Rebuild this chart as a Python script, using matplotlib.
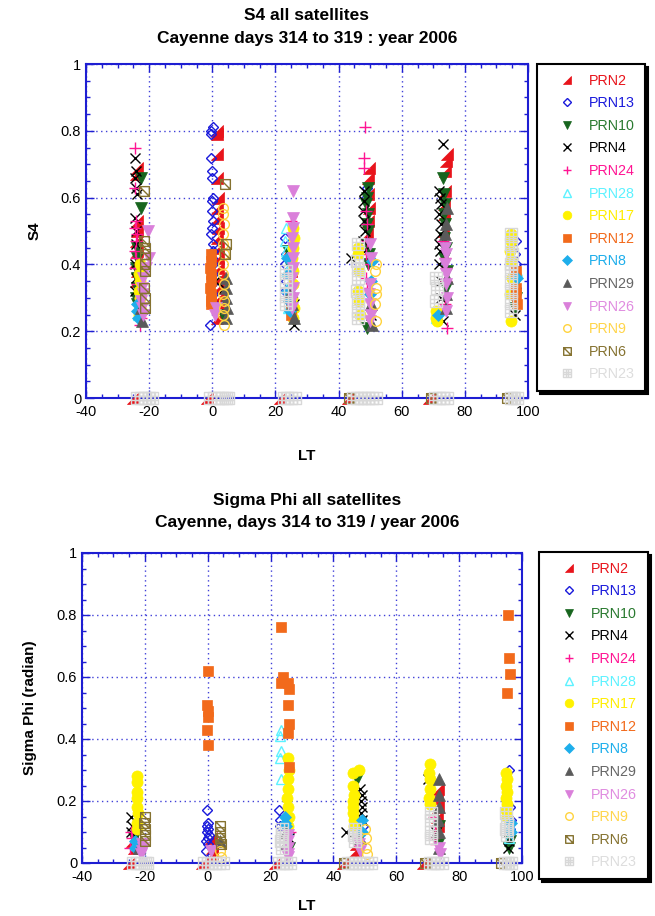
import matplotlib
matplotlib.use('Agg')
import matplotlib.pyplot as plt
from matplotlib.path import Path
from matplotlib.ticker import MultipleLocator, FuncFormatter
from matplotlib.lines import Line2D

# ---------------- data ----------------
prn_names = ['PRN2', 'PRN13', 'PRN10', 'PRN4', 'PRN24', 'PRN28', 'PRN17',
             'PRN12', 'PRN8', 'PRN29', 'PRN26', 'PRN9', 'PRN6', 'PRN23']
prn_colors = ['#E8141B', '#1A1ADB', '#17651E', '#000000', '#FF1493', '#5CF2FF', '#FFF200',
              '#F26A1B', '#1EAEEB', '#5A5A5A', '#DA7FDA', '#FFD33D', '#857230', '#D8D8D8']
text_colors = ['#E8141B', '#1A1ADB', '#2A7A30', '#000000', '#FF1493', '#5CF2FF', '#FFEE00',
               '#F26A1B', '#1EAEEB', '#666666', '#E08CE0', '#FFD54A', '#857230', '#DDDDDD']

# ---- S4 (top panel): local time (LT) and S4 value per satellite ----
s4_lt_prn2 = [-24.0, -24.2, -23.8, -24.0, -24.3, -23.9, -24.1, -24.0, -24.2,
              1.5, 1.6, 1.4, 1.5, 1.7, 1.6, 1.5, 1.8, 1.6, 1.7, 1.9, 1.8, 2.0, 1.9, 1.7, 1.8, 1.6,
              24.5, 24.8, 49.6, 49.4, 49.3, 49.5, 49.2, 49.0,
              74.3, 74.0, 73.8, 73.6, 73.5, 73.4, 73.2,
              -25.2, -1.8, 21.3, 43.0, 68.5]
s4_prn2 = [0.69, 0.67, 0.53, 0.50, 0.47, 0.44, 0.41, 0.38, 0.35,
           0.80, 0.79, 0.73, 0.66, 0.60, 0.57, 0.54, 0.51, 0.48, 0.45, 0.42, 0.39, 0.36, 0.33, 0.30, 0.27, 0.24,
           0.45, 0.38, 0.69, 0.66, 0.61, 0.57, 0.53, 0.49,
           0.73, 0.71, 0.68, 0.62, 0.58, 0.55, 0.50,
           0.0, 0.0, 0.0, 0.0, 0.0]

s4_lt_prn13 = [-0.5, -0.3, 0.2, -0.4, 0.0, -0.2, 0.3, 0.0, -0.1, 0.2, 0.0, -0.3, 0.1, 0.2, -0.2,
               0.1, 0.3, -0.1, 0.2, 0.4, -0.6,
               23.0, 23.2, 23.0, 23.4, 23.1, 48.9, 48.7,
               96.2, 96.0, 96.3, 96.1, 96.3, 96.0]
s4_prn13 = [0.80, 0.79, 0.81, 0.72, 0.68, 0.66, 0.60, 0.59, 0.56, 0.53, 0.51, 0.49, 0.46, 0.44, 0.42,
            0.40, 0.37, 0.34, 0.31, 0.28, 0.22,
            0.48, 0.43, 0.40, 0.35, 0.32, 0.63, 0.60,
            0.47, 0.43, 0.40, 0.36, 0.33, 0.30]

s4_lt_prn10 = [-22.5, -22.6, -24.0, -23.8, -24.2, -24.0, -23.7, -24.1, -23.9,
               3.5, 24.0, 24.3,
               49.2, 49.0, 48.8, 49.3, 49.0, 49.4, 49.1, 49.5, 49.2, 49.0,
               73.2, 73.5, 73.8, 73.3, 73.7, 73.4, 73.9, 73.5, 74.2, 74.0,
               96.0, 96.2, 95.9]
s4_prn10 = [0.66, 0.57, 0.45, 0.42, 0.39, 0.36, 0.33, 0.30, 0.28,
            0.25, 0.44, 0.40,
            0.63, 0.60, 0.58, 0.55, 0.52, 0.50, 0.46, 0.43, 0.40, 0.21,
            0.66, 0.61, 0.58, 0.55, 0.52, 0.48, 0.45, 0.42, 0.38, 0.33,
            0.34, 0.30, 0.27]

s4_lt_prn4 = [-24.5, -24.3, -24.6, -24.2, -24.0, -24.5, -24.3, -24.1, -24.4, -24.2, -24.5,
              0.8, 3.8, 26.0, 25.8,
              44.0, 47.9, 48.2, 47.8, 48.1, 48.3, 47.7, 48.0, 50.2,
              73.0, 71.8, 72.0, 72.3, 71.9, 72.4, 72.1, 71.7, 72.2, 71.9, 72.3, 72.6, 73.2,
              96.0, 95.8]
s4_prn4 = [0.72, 0.68, 0.66, 0.63, 0.61, 0.54, 0.50, 0.46, 0.40, 0.36, 0.32,
           0.35, 0.33, 0.22, 0.28,
           0.42, 0.62, 0.59, 0.56, 0.53, 0.50, 0.47, 0.44, 0.25,
           0.76, 0.62, 0.60, 0.58, 0.55, 0.52, 0.49, 0.46, 0.44, 0.40, 0.35, 0.30, 0.23,
           0.25, 0.31]

s4_lt_prn24 = [-24.4, -24.6, -24.2, -24.5, -24.0, -24.3, -24.6, -24.1, -24.4, -24.0, -23.0, -22.5, -22.8,
               25.0,
               48.5, 48.2, 48.0, 48.6, 48.9, 49.0, 48.7, 49.2, 48.8, 49.1,
               73.0, 73.6, 73.9, 74.1, 74.5, 73.8]
s4_prn24 = [0.75, 0.63, 0.53, 0.51, 0.49, 0.47, 0.44, 0.42, 0.39, 0.34, 0.30, 0.24, 0.22,
            0.53,
            0.81, 0.72, 0.69, 0.56, 0.52, 0.47, 0.43, 0.40, 0.36, 0.33,
            0.47, 0.42, 0.39, 0.35, 0.21, 0.28]

s4_lt_prn28 = [-23.5, 23.3, 23.0, 23.5, 23.6, 23.8, 24.0, 71.0, 96.4]
s4_prn28 = [0.25, 0.51, 0.47, 0.44, 0.38, 0.33, 0.27, 0.24, 0.38]

s4_lt_prn17 = [-23.0, -23.2, -22.9, -23.1, -22.8, -23.0, -23.2,
               25.5, 25.8, 25.6, 25.3, 25.7, 25.5, 25.2, 25.8, 25.6,
               46.0, 46.2, 46.4, 46.0, 46.5, 46.8,
               70.8, 70.9, 71.2,
               94.5, 94.7, 94.3, 94.6, 94.8, 94.4, 94.5]
s4_prn17 = [0.40, 0.37, 0.35, 0.32, 0.30, 0.27, 0.25,
            0.51, 0.48, 0.45, 0.42, 0.38, 0.34, 0.30, 0.27, 0.24,
            0.45, 0.43, 0.38, 0.32, 0.29, 0.25,
            0.26, 0.24, 0.23,
            0.49, 0.47, 0.44, 0.41, 0.36, 0.31, 0.23]

s4_lt_prn12 = [-0.5, -0.4, -0.6, -0.5, -0.4, -0.6, -0.5, -0.4, -0.5,
               24.5, 24.8, 25.0,
               96.2, 96.3, 96.1, 96.4]
s4_prn12 = [0.43, 0.41, 0.39, 0.37, 0.35, 0.33, 0.31, 0.29, 0.28,
            0.30, 0.27, 0.25,
            0.38, 0.33, 0.31, 0.28]

s4_lt_prn8 = [-23.8, -24.0, -23.5, 23.8, 24.0, 23.7, 24.2, 24.5, 50.5, 50.3, 49.8, 71.5, 96.5]
s4_prn8 = [0.28, 0.26, 0.24, 0.42, 0.37, 0.32, 0.29, 0.26, 0.41, 0.35, 0.31, 0.25, 0.36]

s4_lt_prn29 = [-22.5, -22.3, 4.3, 4.5, 4.2, 4.6, 4.4, 25.0, 25.3, 25.8, 50.3, 50.5,
               74.3, 74.0, 73.8, 74.2, 73.9, 74.1]
s4_prn29 = [0.27, 0.23, 0.36, 0.33, 0.30, 0.27, 0.24, 0.32, 0.28, 0.24, 0.28, 0.22,
            0.57, 0.52, 0.49, 0.36, 0.31, 0.27]

s4_lt_prn26 = [-20.5, -20.2, -21.0, -22.0, -22.3, -22.0, -22.5, -22.2, -22.0,
               1.0, 1.3,
               25.6, 25.5, 25.6, 25.4, 25.5, 25.6, 25.5, 25.4, 25.6, 25.5, 25.4,
               50.0, 50.3, 50.0, 49.7, 50.1, 50.4, 50.0,
               73.8, 74.0, 73.7, 74.1, 73.9, 74.2, 74.0]
s4_prn26 = [0.50, 0.42, 0.39, 0.36, 0.33, 0.31, 0.29, 0.27, 0.25,
            0.25, 0.27,
            0.62, 0.54, 0.51, 0.48, 0.45, 0.42, 0.39, 0.36, 0.33, 0.30, 0.27,
            0.46, 0.42, 0.34, 0.31, 0.28, 0.25, 0.23,
            0.45, 0.43, 0.40, 0.37, 0.34, 0.30, 0.26]

s4_lt_prn9 = [3.5, 3.3, 3.6, 3.4, 3.5, 3.6, 3.4, 3.5, 3.7, 3.4, 3.6, 3.8, 3.5, 3.7,
              51.7, 51.5, 52.0, 51.8, 51.6, 51.8]
s4_prn9 = [0.57, 0.55, 0.52, 0.49, 0.46, 0.43, 0.40, 0.37, 0.34, 0.31, 0.29, 0.27, 0.25, 0.22,
           0.40, 0.38, 0.33, 0.31, 0.28, 0.23]

s4_lt_prn6 = [-21.5, -21.5, -21.3, -21.4, -21.2, -21.3, -21.5, -21.3, -21.4,
              4.0, 4.2, 4.1, 43.4, 69.2, 93.3]
s4_prn6 = [0.62, 0.47, 0.45, 0.43, 0.40, 0.38, 0.33, 0.30, 0.27,
           0.64, 0.46, 0.43, 0.0, 0.0, 0.0]

s4_lt_prn23 = [23.3, 23.4, 23.2, 23.5,
               46.0, 45.8, 46.1, 46.0, 45.9, 46.2, 46.0, 46.3,
               71.0, 71.2, 70.9,
               94.7, 94.6, 94.8, 94.5, 94.7, 94.6, 94.5, 94.6, 94.7,
               -23.8, -22.5, -21.2, -20.0, -19.2, -0.7, 0.5, 1.8, 3.0, 4.2, 5.0,
               22.7, 23.8, 25.0, 26.2, 44.6, 45.8, 47.0, 48.2, 49.4, 50.6, 52.0,
               70.6, 71.8, 73.0, 74.5, 94.6, 95.5, 96.5]
s4_prn23 = [0.38, 0.35, 0.31, 0.28,
            0.46, 0.41, 0.39, 0.36, 0.32, 0.29, 0.26, 0.24,
            0.36, 0.33, 0.29,
            0.49, 0.46, 0.43, 0.40, 0.38, 0.35, 0.32, 0.29, 0.26,
            0.0, 0.0, 0.0, 0.0, 0.0, 0.0, 0.0, 0.0, 0.0, 0.0, 0.0,
            0.0, 0.0, 0.0, 0.0, 0.0, 0.0, 0.0, 0.0, 0.0, 0.0, 0.0,
            0.0, 0.0, 0.0, 0.0, 0.0, 0.0, 0.0]

# ---- Sigma Phi (bottom panel): LT and sigma phi (radian) per satellite ----
sp_lt_prn2 = [-24.0, -23.5, 1.2, 1.5, 1.3, 47.0, 47.3, 73.2, 73.0, 73.4, 73.1, 73.3,
              -25.2, -1.8, 21.3, 43.0, 68.5]
sp_prn2 = [0.07, 0.05, 0.08, 0.05, 0.03, 0.04, 0.06, 0.24, 0.21, 0.18, 0.15, 0.12,
           0.0, 0.0, 0.0, 0.0, 0.0]

sp_lt_prn13 = [-0.2, 0.1, -0.3, 0.2, -0.1, 0.3, 0.0, -0.4, 0.2, -0.5,
               22.8, 23.0, 22.9, 49.5, 96.0, 96.3, 96.5, 96.2]
sp_prn13 = [0.17, 0.13, 0.12, 0.11, 0.10, 0.09, 0.08, 0.07, 0.06, 0.04,
            0.17, 0.14, 0.12, 0.12, 0.30, 0.18, 0.14, 0.11]

sp_lt_prn10 = [-23.5, 25.8, 47.6, 48.2, 73.5, 73.2, 95.8, 96.1]
sp_prn10 = [0.08, 0.05, 0.27, 0.12, 0.12, 0.06, 0.05, 0.07]

sp_lt_prn4 = [-24.3, -24.0, -24.5, 26.0, 44.0, 48.5, 49.0, 48.7, 49.2, 48.9, 49.1,
              70.2, 72.5, 95.7, 95.9]
sp_prn4 = [0.15, 0.12, 0.10, 0.08, 0.10, 0.24, 0.22, 0.20, 0.18, 0.16, 0.14,
           0.27, 0.10, 0.05, 0.07]

sp_lt_prn24 = [-24.5, -24.2, -24.6, 26.2, 48.0, 72.3, 72.0, 72.4, 72.1, 72.5]
sp_prn24 = [0.10, 0.08, 0.05, 0.10, 0.09, 0.20, 0.15, 0.12, 0.08, 0.06]

sp_lt_prn28 = [-23.0, 23.2, 23.0, 23.3, 23.1, 23.4, 96.3, 96.0]
sp_prn28 = [0.06, 0.43, 0.41, 0.36, 0.34, 0.27, 0.12, 0.08]

sp_lt_prn17 = [-22.5, -22.6, -22.4, -22.5, -22.6, -22.3, -22.5, -22.4,
               25.5, 25.8, 25.4, 25.7, 25.3, 25.6, 25.9, 25.5,
               46.3, 48.0, 46.2, 46.4, 46.1, 46.3, 46.2, 46.4, 46.5,
               70.6, 70.5, 70.7, 70.6, 70.5, 70.8,
               95.0, 95.2, 94.9, 95.1, 95.0, 95.2, 94.9, 95.1]
sp_prn17 = [0.28, 0.26, 0.23, 0.21, 0.18, 0.16, 0.13, 0.11,
            0.34, 0.30, 0.27, 0.24, 0.21, 0.18, 0.15, 0.12,
            0.29, 0.30, 0.25, 0.22, 0.20, 0.18, 0.16, 0.14, 0.12,
            0.32, 0.29, 0.27, 0.24, 0.21, 0.19,
            0.29, 0.27, 0.25, 0.23, 0.21, 0.19, 0.17, 0.15]

sp_lt_prn12 = [0.0, -0.1, 0.0, 0.1, -0.1, 0.0,
               23.2, 24.0, 23.4, 25.6, 25.8, 25.5, 26.0, 25.4, 25.8,
               95.6, 95.8, 96.2, 95.3]
sp_prn12 = [0.62, 0.51, 0.49, 0.47, 0.43, 0.38,
            0.76, 0.60, 0.58, 0.58, 0.56, 0.51, 0.45, 0.42, 0.31,
            0.80, 0.66, 0.61, 0.55]

sp_lt_prn8 = [-23.2, -23.0, 24.5, 24.8, 25.2, 24.6, 49.2, 49.0, 96.4, 96.6]
sp_prn8 = [0.05, 0.07, 0.15, 0.12, 0.09, 0.13, 0.14, 0.10, 0.10, 0.13]

sp_lt_prn29 = [-22.0, 4.0, 24.8, 25.0, 48.5, 73.6, 73.5, 73.7, 73.4, 73.6, 73.5]
sp_prn29 = [0.05, 0.07, 0.10, 0.06, 0.08, 0.27, 0.22, 0.18, 0.14, 0.10, 0.05]

sp_lt_prn26 = [-21.0, -20.5, -21.3, -20.8, 1.0, 25.5, 25.6, 25.4, 25.5, 25.6,
               48.0, 48.3, 73.5, 73.8]
sp_prn26 = [0.06, 0.05, 0.03, 0.04, 0.04, 0.09, 0.07, 0.05, 0.03, 0.02,
            0.06, 0.04, 0.05, 0.03]

sp_lt_prn9 = [4.0, 4.3, 50.2, 50.4, 50.5, 50.8]
sp_prn9 = [0.04, 0.02, 0.11, 0.08, 0.05, 0.03]

sp_lt_prn6 = [-20.0, -20.2, -19.8, -20.1, -20.0, 3.8, 4.0, 3.9, 4.1, 43.4, 69.2, 93.3]
sp_prn6 = [0.15, 0.13, 0.11, 0.09, 0.07, 0.12, 0.10, 0.08, 0.06, 0.0, 0.0, 0.0]

sp_lt_prn23 = [23.5, 23.6, 23.4, 23.5, 46.8, 46.6, 46.9,
               71.0, 71.2, 70.9, 71.1, 95.0, 95.2, 94.9, 95.1,
               -23.8, -22.5, -21.2, -20.0, -19.2, -1.2, 0.0, 1.2, 2.4, 3.6, 5.0,
               22.7, 23.8, 25.0, 26.2, 44.6, 45.8, 47.0, 48.2, 49.4, 50.6, 52.0,
               70.6, 71.8, 73.0, 74.5, 94.6, 95.5, 96.5]
sp_prn23 = [0.11, 0.09, 0.07, 0.05, 0.11, 0.09, 0.07,
            0.16, 0.14, 0.10, 0.08, 0.16, 0.13, 0.11, 0.09,
            0.0, 0.0, 0.0, 0.0, 0.0, 0.0, 0.0, 0.0, 0.0, 0.0, 0.0,
            0.0, 0.0, 0.0, 0.0, 0.0, 0.0, 0.0, 0.0, 0.0, 0.0, 0.0,
            0.0, 0.0, 0.0, 0.0, 0.0, 0.0, 0.0]

s4_series = [(s4_lt_prn2, s4_prn2), (s4_lt_prn13, s4_prn13), (s4_lt_prn10, s4_prn10),
             (s4_lt_prn4, s4_prn4), (s4_lt_prn24, s4_prn24), (s4_lt_prn28, s4_prn28),
             (s4_lt_prn17, s4_prn17), (s4_lt_prn12, s4_prn12), (s4_lt_prn8, s4_prn8),
             (s4_lt_prn29, s4_prn29), (s4_lt_prn26, s4_prn26), (s4_lt_prn9, s4_prn9),
             (s4_lt_prn6, s4_prn6), (s4_lt_prn23, s4_prn23)]
sp_series = [(sp_lt_prn2, sp_prn2), (sp_lt_prn13, sp_prn13), (sp_lt_prn10, sp_prn10),
             (sp_lt_prn4, sp_prn4), (sp_lt_prn24, sp_prn24), (sp_lt_prn28, sp_prn28),
             (sp_lt_prn17, sp_prn17), (sp_lt_prn12, sp_prn12), (sp_lt_prn8, sp_prn8),
             (sp_lt_prn29, sp_prn29), (sp_lt_prn26, sp_prn26), (sp_lt_prn9, sp_prn9),
             (sp_lt_prn6, sp_prn6), (sp_lt_prn23, sp_prn23)]

# ---------------- marker styles ----------------
M, L, C = Path.MOVETO, Path.LINETO, Path.CLOSEPOLY
tri_br = Path([(-1, -1), (1, -1), (1, 1), (-1, -1)], [M, L, L, C])
sq_diag = Path([(-1, -1), (1, -1), (1, 1), (-1, 1), (-1, -1), (-1, 1), (1, -1)],
               [M, L, L, L, C, M, L])
t = 1.0 / 3.0
sq_grid = Path([(-1, -1), (1, -1), (1, 1), (-1, 1), (-1, -1),
                (-t, -1), (-t, 1), (t, -1), (t, 1), (-1, -t), (1, -t), (-1, t), (1, t)],
               [M, L, L, L, C, M, L, M, L, M, L, M, L])

# (marker, size, filled, edge width)
styles = [(tri_br, 8, True, 0.5), ('D', 5.5, False, 1.0), ('v', 8, True, 0.5),
          ('x', 7, False, 1.0), ('+', 8, False, 1.0), ('^', 7, False, 1.0),
          ('o', 8, True, 0.5), ('s', 7, True, 0.5), ('D', 6, True, 0.5),
          ('^', 8, True, 0.5), ('v', 8, True, 0.5), ('o', 7, False, 1.0),
          (sq_diag, 7, False, 1.0), (sq_grid, 8, False, 1.0)]

BLUE = '#1E1ED2'
FONT = ['Liberation Sans', 'DejaVu Sans']
plt.rcParams['font.family'] = FONT
plt.rcParams['axes.unicode_minus'] = False

fig = plt.figure(figsize=(6.55, 9.16), dpi=100)
W, H = 655.0, 916.0


def add_axes(x0, y0, x1, y1):
    return fig.add_axes([x0 / W, 1 - y1 / H, (x1 - x0) / W, (y1 - y0) / H])


def yfmt(v, p):
    if abs(v) < 1e-9:
        return '0'
    if abs(v - 1) < 1e-9:
        return '1'
    return '%.1f' % v


def style_axes(ax, ylabel):
    ax.set_xlim(-40, 100)
    ax.set_ylim(0, 1)
    ax.xaxis.set_major_locator(MultipleLocator(20))
    ax.xaxis.set_minor_locator(MultipleLocator(5))
    ax.yaxis.set_major_locator(MultipleLocator(0.2))
    ax.yaxis.set_minor_locator(MultipleLocator(0.05))
    ax.yaxis.set_major_formatter(FuncFormatter(yfmt))
    ax.tick_params(which='both', direction='in', top=True, right=True, colors=BLUE,
                   labelcolor='black', labelsize=10.5)
    ax.tick_params(which='major', length=6, width=1)
    ax.tick_params(which='minor', length=3, width=1)
    ax.tick_params(axis='x', pad=5)
    for sp in ax.spines.values():
        sp.set_color(BLUE)
        sp.set_linewidth(1.5)
    ax.grid(True, which='major', color=BLUE, linestyle=(0, (1, 2.5)), linewidth=1.0, alpha=0.85)
    ax.set_axisbelow(True)
    ax.set_ylabel(ylabel, fontsize=11, fontweight='bold', labelpad=14)


def draw_series(ax, series):
    for (lt, val), col, (mk, ms, filled, mew) in zip(series, prn_colors, styles):
        ax.plot(lt, val, linestyle='none', marker=mk, markersize=ms,
                markerfacecolor=col if filled else 'none', markeredgecolor=col,
                markeredgewidth=mew, clip_on=False, zorder=3)


def add_legend(x0, y0, x1):
    handles = []
    for name, col, (mk, ms, filled, mew) in zip(prn_names, prn_colors, styles):
        handles.append(Line2D([], [], linestyle='none', marker=mk, markersize=ms * 0.78,
                              markerfacecolor=col if filled else 'none', markeredgecolor=col,
                              markeredgewidth=mew, label=name))
    leg = fig.legend(handles=handles, loc='upper left',
                     bbox_to_anchor=(x0 / W, 1 - y0 / H, (x1 - x0) / W, 0.0),
                     mode='expand', borderaxespad=0, fontsize=10.3, labelspacing=0.6,
                     borderpad=0.68, handlelength=2.8, handletextpad=0.15,
                     frameon=True, fancybox=False, shadow={'color': 'black', 'alpha': 1.0},
                     labelcolor=text_colors)
    fr = leg.get_frame()
    fr.set_edgecolor('black')
    fr.set_linewidth(1.5)
    fr.set_facecolor('white')
    fr.set_alpha(1.0)
    return leg


TFS = 12.5

# ---------------- top panel: S4 ----------------
ax1 = add_axes(86, 64, 528, 398)
style_axes(ax1, 'S4')
draw_series(ax1, s4_series)
fig.text(307 / W, 1 - 16 / H, 'S4 all satellites', ha='center', va='center',
         fontsize=TFS, fontweight='bold')
fig.text(307 / W, 1 - 38 / H, 'Cayenne days 314 to 319 : year 2006', ha='center', va='center',
         fontsize=TFS, fontweight='bold')
fig.text(307 / W, 1 - 456 / H, 'LT', ha='center', va='center', fontsize=11, fontweight='bold')
add_legend(537, 64, 645)

# ---------------- bottom panel: Sigma Phi ----------------
ax2 = add_axes(82, 553, 522, 863)
style_axes(ax2, 'Sigma Phi (radian)')
draw_series(ax2, sp_series)
fig.text(307 / W, 1 - 500 / H, 'Sigma Phi all satellites', ha='center', va='center',
         fontsize=TFS, fontweight='bold')
fig.text(307 / W, 1 - 522 / H, 'Cayenne, days 314 to 319 / year 2006', ha='center', va='center',
         fontsize=TFS, fontweight='bold')
fig.text(307 / W, 1 - 906 / H, 'LT', ha='center', va='center', fontsize=11, fontweight='bold')
add_legend(539, 552, 648)

fig.savefig('out.png', dpi=100)
